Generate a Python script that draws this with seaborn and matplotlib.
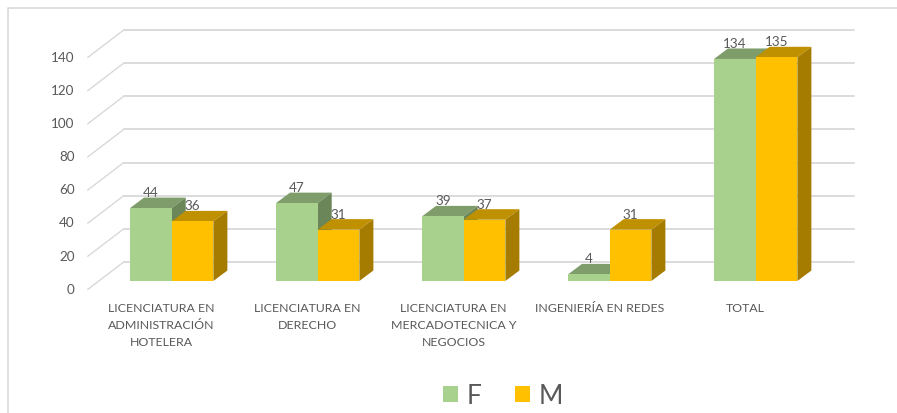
import matplotlib
matplotlib.use("Agg")
import matplotlib.pyplot as plt
from matplotlib.patches import Polygon
from matplotlib.lines import Line2D
from matplotlib.transforms import Affine2D
import pandas as pd
import seaborn as sns

categories = ["LICENCIATURA EN\nADMINISTRACIÓN\nHOTELERA", "LICENCIATURA EN\nDERECHO",
              "LICENCIATURA EN\nMERCADOTECNICA Y\nNEGOCIOS", "INGENIERÍA EN REDES", "TOTAL"]
f_values = [44, 47, 39, 4, 134]
m_values = [36, 31, 37, 31, 135]
series_names = ["F", "M"]
y_ticks = [0, 20, 40, 60, 80, 100, 120, 140]

W, H = 897, 413
PX_X = 1 / 146          # data units per pixel, x
PX_Y = 1 / 1.657        # data units per pixel, y
sns.set_theme(style="white")
plt.rcParams["font.family"] = ["Lato", "DejaVu Sans"]
TEXT = "#595959"
GRID = "#D9D9D9"

df = pd.DataFrame({
    "cat": categories * 2,
    "value": f_values + m_values,
    "sex": [series_names[0]] * len(categories) + [series_names[1]] * len(categories),
})

fig = plt.figure(figsize=(W / 100, H / 100), dpi=100)
ax = fig.add_axes([98.7 / W, 1 - 281 / H, 730 / W, 265 / H])
sns.barplot(data=df, x="cat", y="value", hue="sex", hue_order=series_names,
            palette=["#A9D18E", "#FFC000"], width=0.571, gap=0, saturation=1,
            linewidth=0, ax=ax, legend=False, zorder=3)
ax.set_xlim(-0.5, 4.5)
ax.set_ylim(0, 265 / 1.657)
ax.set_xlabel("")
ax.set_ylabel("")
for s in ax.spines.values():
    s.set_visible(False)

# floor depth of the pseudo-3D wall and the bars
wall_dx, wall_dy = 25 * PX_X, 19 * PX_Y
front_dx, front_dy = -11 * PX_X, -8.5 * PX_Y
bar_dx, bar_dy = 14 * PX_X, 10.5 * PX_Y
x0, x1 = ax.get_xlim()
for v in y_ticks:
    ax.plot([x0 + wall_dx, x1 + wall_dx], [v + wall_dy] * 2, color=GRID, lw=1.3, clip_on=False, zorder=1)
    ax.plot([x0 + front_dx, x0 + wall_dx], [v + front_dy, v + wall_dy], color=GRID, lw=1.0, clip_on=False, zorder=1)

shades = [("#7F9D6B", "#6B8759"), ("#BF9000", "#A67C00")]
order = 3.0
n = len(categories)
for i in range(n):
    for c, container in enumerate(ax.containers):
        p = container.patches[i]
        x, w, h = p.get_x(), p.get_width(), p.get_height()
        top, side = shades[c]
        order += 0.1
        ax.add_patch(Polygon([(x, h), (x + w, h), (x + w + bar_dx, h + bar_dy), (x + bar_dx, h + bar_dy)],
                             closed=True, fc=top, ec="none", clip_on=False, zorder=order))
        ax.add_patch(Polygon([(x + w, 0), (x + w + bar_dx, bar_dy), (x + w + bar_dx, h + bar_dy), (x + w, h)],
                             closed=True, fc=side, ec="none", clip_on=False, zorder=order))
        order += 0.1
        p.set_zorder(order)
        p.set_clip_on(False)
        ax.text(x + w / 2, h + 15 * PX_Y, str(int(h)), ha="center", va="center",
                fontsize=9.7, color=TEXT, zorder=50, clip_on=False)

ax.set_yticks(y_ticks, [str(v) for v in y_ticks])
ax.tick_params(axis="y", length=0, pad=17.3, labelsize=9.7, labelcolor=TEXT)
for lab in ax.get_yticklabels():
    lab.set_transform(lab.get_transform() + Affine2D().translate(0, -7.7))
ax.tick_params(axis="x", length=0, pad=15.5, labelsize=8.9, labelcolor=TEXT)
for lab in ax.get_xticklabels():
    lab.set_transform(lab.get_transform() + Affine2D().translate(-10.2, 0))
    lab.set_linespacing(1.7)
    lab.set_va("top")

handles = [c.patches[0] for c in ax.containers]
fig.legend(handles, series_names, loc="center", bbox_to_anchor=(503 / W, 1 - 396 / H), ncol=2,
           frameon=False, fontsize=19, labelcolor=TEXT, handlelength=0.57, handleheight=0.57,
           handletextpad=0.3, columnspacing=1.3, borderpad=0, borderaxespad=0)

# chart frame
fig.add_artist(Line2D([7.5 / W, 7.5 / W, 1], [0, 1 - 7.5 / H, 1 - 7.5 / H], color=GRID, lw=1.2))
fig.savefig("out.png", dpi=100)
